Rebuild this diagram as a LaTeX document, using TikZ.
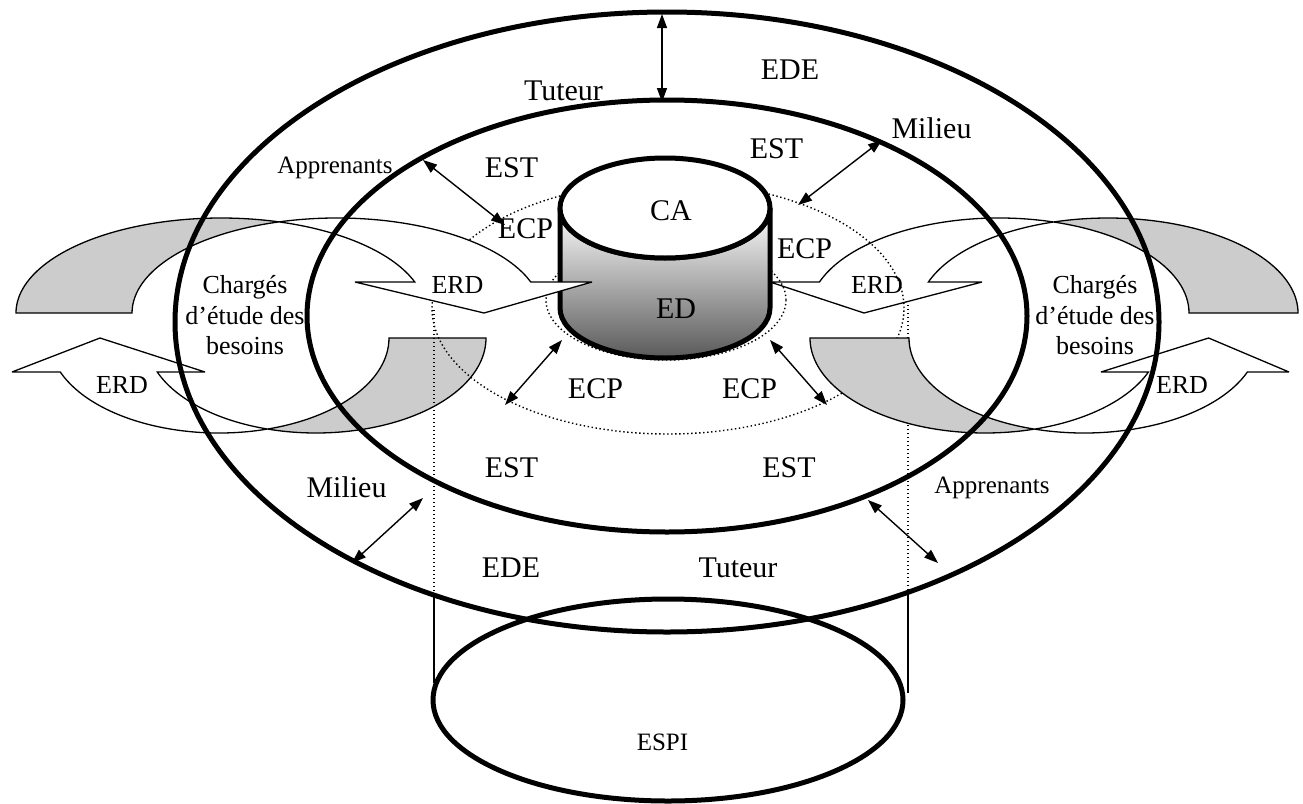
\documentclass[tikz,border=0pt]{standalone}
\usepackage{fontspec}
\setmainfont{Liberation Serif}
\usetikzlibrary{arrows.meta}
\begin{document}
\begin{tikzpicture}[x=1pt,y=-1pt,
  ring/.style={line width=5pt},
  erdback/.style={draw,line width=1.3pt,fill=black!20,line join=miter,miter limit=4},
  erdfront/.style={draw,line width=1.3pt,fill=white,line join=miter,miter limit=4},
  dots/.style={line width=1.4pt,dash pattern=on 1.4pt off 2.6pt},
  thinline/.style={line width=1.3pt},
  link/.style={{Triangle[length=14pt,width=10pt]}-{Triangle[length=14pt,width=10pt]},line width=1.4pt},
  lbl/.style={font=\fontsize{30}{36}\selectfont,inner sep=0pt,anchor=base},
  lblm/.style={font=\fontsize{26}{30}\selectfont,inner sep=0pt,anchor=base},
  lbls/.style={font=\fontsize{25}{30}\selectfont,inner sep=0pt,anchor=base}]
\useasboundingbox (0,0) rectangle (1303,803);
\fill[white] (0,0) rectangle (1303,803);

% lower-left ERD (curved up arrow)
\draw[erdback] ([shift={(316,338)}]0:170pt and 95pt) arc[start angle=0,end angle=-106.58,x radius=170pt,y radius=95pt] arc[start angle=-73.42,end angle=0,x radius=170pt,y radius=95pt] -- cycle;
\draw[erdfront] ([shift={(219,338)}]-73.42:170pt and 95pt) arc[start angle=-73.42,end angle=-159.03,x radius=170pt,y radius=95pt] -- (12,372) -- (100,338) -- (205,372) -- ([shift={(316,338)}]-159.03:170pt and 95pt) arc[start angle=-159.03,end angle=-106.58,x radius=170pt,y radius=95pt] -- cycle;

% upper-right ERD (curved down arrow)
\draw[erdback] ([shift={(1108,313)}]0:190pt and 95pt) arc[start angle=0,end angle=106.67,x radius=190pt,y radius=95pt] arc[start angle=73.33,end angle=0,x radius=190pt,y radius=95pt] -- cycle;
\draw[erdfront] ([shift={(999,313)}]73.33:190pt and 95pt) arc[start angle=73.33,end angle=160.96,x radius=190pt,y radius=95pt] -- (770,282) -- (864,313) -- (982,282) -- ([shift={(1108,313)}]160.96:190pt and 95pt) arc[start angle=160.96,end angle=106.67,x radius=190pt,y radius=95pt] -- cycle;

% dotted ECP ring, base ring and projection lines
\draw[dots] (668,308) ellipse [x radius=236pt,y radius=126pt];
\draw[dots] (666,300) ellipse [x radius=120pt,y radius=60pt];
\draw[dots] (434,310) -- (434,595);
\draw[dots] (908,305) -- (908,593);

% cylinder CA / ED
\draw[ring,top color=white,middle color=white,bottom color=black!65] (560,208) -- (560,308) arc[start angle=180,end angle=360,x radius=105pt,y radius=50pt] -- (770,208) arc[start angle=0,end angle=-180,x radius=105pt,y radius=50pt] -- cycle;
\draw[ring,fill=white] (665,208) ellipse [x radius=105pt,y radius=50pt];

% upper-left ERD (curved down arrow)
\draw[erdback] ([shift={(221,313)}]180:205pt and 95pt) arc[start angle=180,end angle=73.56,x radius=205pt,y radius=95pt] arc[start angle=106.44,end angle=180,x radius=205pt,y radius=95pt] -- cycle;
\draw[erdfront] ([shift={(337,313)}]106.44:205pt and 95pt) arc[start angle=106.44,end angle=19.04,x radius=205pt,y radius=95pt] -- (592,282) -- (484,313) -- (355,282) -- ([shift={(221,313)}]19.04:205pt and 95pt) arc[start angle=19.04,end angle=73.56,x radius=205pt,y radius=95pt] -- cycle;

% lower-right ERD (curved up arrow)
\draw[erdback] ([shift={(985,338)}]180:175pt and 95pt) arc[start angle=180,end angle=286.43,x radius=175pt,y radius=95pt] arc[start angle=253.57,end angle=180,x radius=175pt,y radius=95pt] -- cycle;
\draw[erdfront] ([shift={(1084,338)}]253.57:175pt and 95pt) arc[start angle=253.57,end angle=339.03,x radius=175pt,y radius=95pt] -- (1289,372) -- (1208.6,338) -- (1101,372) -- ([shift={(985,338)}]339.03:175pt and 95pt) arc[start angle=339.03,end angle=286.43,x radius=175pt,y radius=95pt] -- cycle;

% rings EDE, EST and ESPI
\draw[ring] (667,322) ellipse [x radius=492pt,y radius=310pt];
\draw[ring] (667,316) ellipse [x radius=360pt,y radius=216pt];
\draw[ring] (668,700) ellipse [x radius=235pt,y radius=101pt];
\draw[thinline] (434,595) -- (434,683);
\draw[thinline] (908,593) -- (908,693);

% connector ends
\coordinate (tA) at (662,14);   \coordinate (tB) at (662,102);
\coordinate (aA) at (423,160);  \coordinate (aB) at (505,225);
\coordinate (mA) at (882,140);  \coordinate (mB) at (798,205);
\coordinate (cA) at (562,340);  \coordinate (cB) at (505,405);
\coordinate (dA) at (770,340);  \coordinate (dB) at (827,405);
\coordinate (nA) at (423,498);  \coordinate (nB) at (352,563);
\coordinate (pA) at (868,500);  \coordinate (pB) at (938,563);
\draw[link] (tA) -- (tB);
\draw[link] (aA) -- (aB);
\draw[link] (mA) -- (mB);
\draw[link] (cA) -- (cB);
\draw[link] (dA) -- (dB);
\draw[link] (nA) -- (nB);
\draw[link] (pA) -- (pB);

% labels
\node[lbl] (tut1) at (563.5,100) {Tuteur};
\node[lbl] (ede1) at (790,79) {EDE};
\node[lbl] (est1) at (511.5,177) {EST};
\node[lbl] (est2) at (776.5,158) {EST};
\node[lbl] (mil1) at (931.5,138) {Milieu};
\node[lbls] (app1) at (335,173) {Apprenants};
\node[lbl] (ca) at (671,220) {CA};
\node[lbl] (ed) at (676,318) {ED};
\node[lbl] (ecp1) at (525.5,238) {ECP};
\node[lbl] (ecp2) at (804.5,258) {ECP};
\node[lbl] (ecp3) at (595.5,398) {ECP};
\node[lbl] (ecp4) at (749.5,398) {ECP};
\node[lbl] (est3) at (511.5,477) {EST};
\node[lbl] (est4) at (789,477) {EST};
\node[lbl] (mil2) at (346.5,497) {Milieu};
\node[lbls] (app2) at (992,493) {Apprenants};
\node[lbl] (ede2) at (511,577) {EDE};
\node[lbl] (tut2) at (738,577) {Tuteur};
\node[lbls] (espi) at (662.5,750) {ESPI};
\node[lblm] (erd1) at (457.5,293) {ERD};
\node[lblm] (erd2) at (122,393) {ERD};
\node[lblm] (erd3) at (877,293) {ERD};
\node[lblm] (erd4) at (1182,393) {ERD};
\node[lblm] (chl1) at (245,293) {Chargés};
\node[lblm] (chl2) at (245,324) {d’étude des};
\node[lblm] (chl3) at (245,354) {besoins};
\node[lblm] (chr1) at (1095,293) {Chargés};
\node[lblm] (chr2) at (1095,324) {d’étude des};
\node[lblm] (chr3) at (1095,354) {besoins};
\end{tikzpicture}
\end{document}
